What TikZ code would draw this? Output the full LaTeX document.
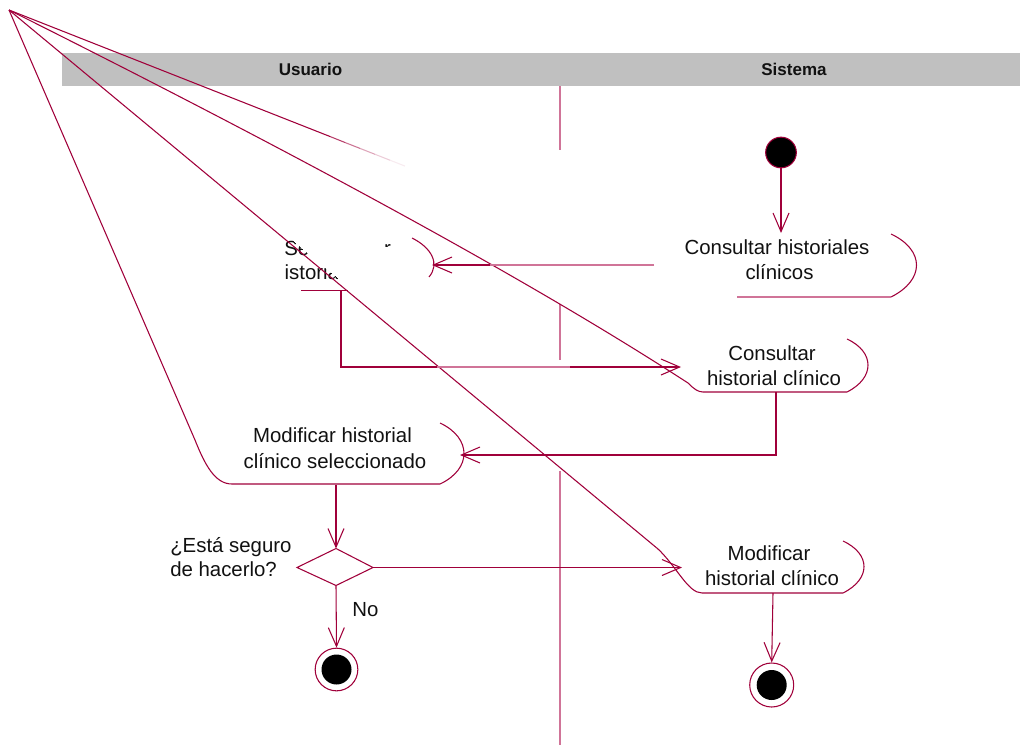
\documentclass[tikz,border=0pt]{standalone}
\usepackage{fontspec}
\setmainfont{Liberation Sans}
\usetikzlibrary{arrows.meta}
\definecolor{dk}{RGB}{160,0,58}
\definecolor{lt}{RGB}{208,116,152}
\definecolor{hdr}{RGB}{192,192,192}
\definecolor{txt}{RGB}{17,17,17}
\begin{document}
\begin{tikzpicture}[x=0.75pt,y=-0.75pt,
  ln/.style={draw=dk,line width=0.8pt},
  lnl/.style={draw=lt,line width=0.8pt},
  arr/.style={-{Straight Barb[length=14pt,width=12pt]}},
  lbl/.style={font=\fontsize{15.3pt}{19pt}\selectfont,text=txt,inner sep=0pt,anchor=base},
  hlbl/.style={font=\fontsize{12.75pt}{15pt}\selectfont\bfseries,text=txt,inner sep=0pt}]
\useasboundingbox (0,0) rectangle (1020,746);
% header
\fill[hdr] (62,53) rectangle (1020,86);
\node[hlbl] (usuario) at (310.5,69.5) {Usuario};
\node[hlbl] (sistema) at (794,69.5) {Sistema};
% swimlane divider (visible parts)
\coordinate (sw0) at (560,86);
\coordinate (sw1) at (560,150);
\coordinate (sw2) at (560,304);
\coordinate (sw3) at (560,360);
\coordinate (sw4) at (560,471);
\coordinate (sw5) at (560,745);
\draw[lnl] (sw0) -- (sw1);
\draw[lnl] (sw2) -- (sw3);
\draw[lnl] (sw4) -- (sw5);
% apex of the stray lines
\coordinate (apex) at (9,10);
% faded line
\draw[ln] (apex) -- (330,136.5);
\draw[ln,draw opacity=0.75] (330,136.5) -- (345,142.5);
\draw[ln,draw opacity=0.55] (345,142.5) -- (360,148.4);
\draw[ln,draw opacity=0.35] (360,148.4) -- (375,154.3);
\draw[ln,draw opacity=0.2] (375,154.3) -- (390,160.2);
\draw[ln,draw opacity=0.08] (390,160.2) -- (405,166.1);
% partly hidden text
\begin{scope}
\clip (284,233.6) -- (284,296) -- (359.4,296) -- cycle (383,238) rectangle (395,246.5);
\node[lbl,anchor=base west] (sel1) at (284,255.7) {Seleccionar};
\node[lbl,anchor=base west] (sel2) at (273,279) {historial};
\end{scope}
% Seleccionar shape remains
\draw[ln] (412,238) .. controls (432,248) and (440,264) .. (429,277);
\coordinate (selB0) at (301,290.5);
\coordinate (selB1) at (348,290.5);
\draw[ln] (selB0) -- (selB1);
\coordinate (selIn) at (432,265);
% initial node
\node[circle,fill=black,draw=dk,line width=0.8pt,inner sep=0pt,minimum size=23pt] (init) at (781,152.5) {};
% Consultar historiales clinicos
\node[lbl] (ch1a) at (777,254) {Consultar historiales};
\node[lbl] (ch1b) at (779.5,279) {clínicos};
\coordinate (ch1top) at (781,233);
\draw[lnl] (737,297) -- (891,297);
\draw[ln] (891,297) .. controls (925,280) and (925,250) .. (891,234);
\coordinate (ch1out) at (654,265);
\coordinate (ch1mid) at (490,265);
% Consultar historial clinico
\node[lbl] (ch2a) at (772,360) {Consultar};
\node[lbl] (ch2b) at (774,385) {historial clínico};
\draw[ln] (apex) .. controls (312.8,161.9) and (539.1,286.2) .. (688,383)
  .. controls (694,389) and (698,392) .. (703,392) -- (847,392)
  .. controls (875,378) and (875,352) .. (847,339);
\coordinate (ch2in) at (681,367);
\coordinate (ch2out) at (776,392);
% Modificar historial clinico seleccionado
\node[lbl] (ms1) at (332.5,442.7) {Modificar historial};
\node[lbl] (ms2) at (335,468.3) {clínico seleccionado};
\draw[ln] (apex) -- (195,440) .. controls (205,465) and (215,484) .. (232,484)
  -- (440,484) .. controls (472,469) and (472,438) .. (440,423);
\coordinate (msin) at (460,455);
\coordinate (msout) at (336,485);
% decision
\coordinate (decN) at (336,548.5);
\coordinate (decE) at (373,567.5);
\coordinate (decS) at (336,585.5);
\coordinate (decW) at (297,567.5);
\draw[ln] (decW) -- (decN) -- (decE) -- (decS) -- cycle;
\node[lbl,anchor=base west] (q1) at (170,552.7) {¿Está seguro};
\node[lbl,anchor=base west] (q2) at (170,576.7) {de hacerlo?};
\node[lbl,anchor=base west] (no) at (352,616.7) {No};
% Modificar historial clinico
\node[lbl] (mh1) at (769,560.7) {Modificar};
\node[lbl] (mh2) at (772,585.7) {historial clínico};
\draw[ln] (apex) -- (658,549) .. controls (677,567) and (688,593) .. (702,593)
  -- (843,593) .. controls (871,579) and (871,554) .. (843,541);
\coordinate (mhin) at (682,567.5);
\coordinate (mhout) at (773,593);
% final nodes
\node[circle,draw=dk,fill=white,line width=0.8pt,inner sep=0pt,minimum size=32pt] (finL) at (336.5,669.5) {};
\node[circle,fill=black,inner sep=0pt,minimum size=22.5pt] (finLi) at (finL.center) {};
\node[circle,draw=dk,fill=white,line width=0.8pt,inner sep=0pt,minimum size=33pt] (finR) at (771.7,685) {};
\node[circle,fill=black,inner sep=0pt,minimum size=22.5pt] (finRi) at (finR.center) {};
% connectors
\draw[ln,arr] (init.south) -- (ch1top);
\draw[lnl] (ch1out) -- (ch1mid);
\draw[ln,arr] (ch1mid) -- (selIn);
\coordinate (c1) at (341,291);
\coordinate (c2) at (341,367);
\coordinate (c3) at (437,367);
\coordinate (c4) at (570,367);
\draw[ln] (c1) -- (c2) -- (c3);
\draw[lnl] (c3) -- (c4);
\draw[ln,arr] (c4) -- (ch2in);
\draw[ln,arr] (ch2out) -- (776,455) -- (msin);
\draw[ln,arr] (msout) -- (decN);
\draw[ln,arr] (decE) -- (mhin);
\draw[ln,arr] (decS) -- (finL.north);
\draw[ln,arr] (mhout) -- (finR.north);
\end{tikzpicture}
\end{document}
